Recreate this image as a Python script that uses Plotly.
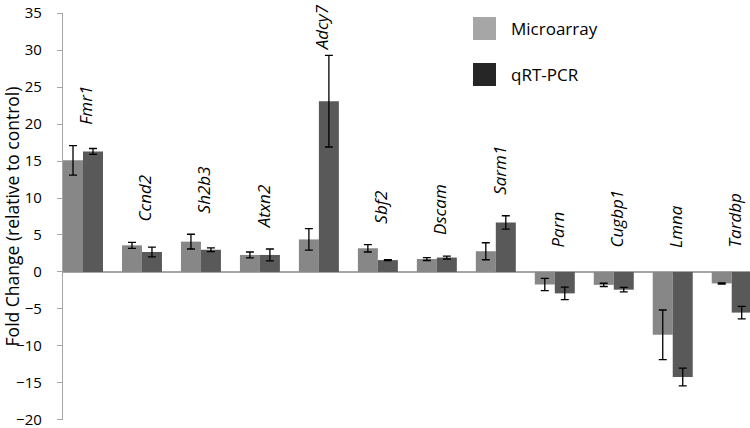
import plotly.graph_objects as go

genes = ["Fmr1", "Ccnd2", "Sh2b3", "Atxn2", "Adcy7", "Sbf2", "Dscam", "Sarm1",
         "Parn", "Cugbp1", "Lmna", "Tardbp"]
microarray = [15.1, 3.6, 4.1, 2.3, 4.4, 3.2, 1.75, 2.8, -1.7, -1.75, -8.5, -1.55]
microarray_err = [2.0, 0.4, 1.0, 0.4, 1.45, 0.5, 0.2, 1.15, 0.83, 0.22, 3.35, 0.08]
qrtpcr = [16.3, 2.7, 3.0, 2.3, 23.1, 1.6, 1.95, 6.7, -2.9, -2.4, -14.2, -5.5]
qrtpcr_err = [0.4, 0.65, 0.25, 0.8, 6.2, 0.05, 0.2, 0.9, 0.85, 0.3, 1.2, 0.85]
y_ticks = [-20, -15, -10, -5, 0, 5, 10, 15, 20, 25, 30, 35]

x = list(range(len(genes)))
bar_micro = "#878787"
bar_qrt = "#595959"
leg_micro = "#a6a6a6"
leg_qrt = "#262626"
font = "Open Sans"

fig = go.Figure()
fig.add_trace(go.Bar(x=x, y=microarray, name="Microarray", marker_color=bar_micro,
                     marker_line_width=0,
                     error_y=dict(type="data", array=microarray_err, color="black",
                                  thickness=1.3, width=4)))
fig.add_trace(go.Bar(x=x, y=qrtpcr, name="qRT-PCR", marker_color=bar_qrt,
                     marker_line_width=0,
                     error_y=dict(type="data", array=qrtpcr_err, color="black",
                                  thickness=1.3, width=4)))

# gene labels above bars (or above zero line for negative bars)
for i, g in enumerate(genes):
    hi = max(microarray[i] + microarray_err[i], qrtpcr[i] + qrtpcr_err[i], 0)
    ly = min(hi + 2.6, 29.7) if hi > 0 else 3.0
    fig.add_annotation(x=i + 0.05, y=ly, text=g, textangle=-90, showarrow=False,
                       xanchor="center", yanchor="bottom",
                       font=dict(family=font, size=17, color="black", style="italic"))

# manual legend
for k, (lab, col) in enumerate([("Microarray", leg_micro), ("qRT-PCR", leg_qrt)]):
    y0 = 17 + k * 46
    fig.add_shape(type="rect", xref="paper", yref="paper",
                  x0=(473 - 63) / 687, x1=(496 - 63) / 687,
                  y0=1 - (y0 + 23 - 13) / 407, y1=1 - (y0 - 13) / 407,
                  fillcolor=col, line_width=0)
    fig.add_annotation(xref="paper", yref="paper", x=(509 - 63) / 687,
                       y=1 - (y0 + 11.5 - 13) / 407, text=lab, showarrow=False,
                       xanchor="left", yanchor="middle",
                       font=dict(family=font, size=17, color="black"))

fig.update_layout(
    width=750, height=428,
    margin=dict(l=63, r=0, t=13, b=8, autoexpand=False),
    paper_bgcolor="white", plot_bgcolor="white",
    barmode="group", bargap=0.322, bargroupgap=0,
    showlegend=False,
    font=dict(family=font, color="black"),
    xaxis=dict(range=[-0.339, 11.31], showticklabels=False, showgrid=False,
               zeroline=False, showline=False, ticks="", automargin=False),
    yaxis=dict(range=[-20.03, 35.03], tickvals=y_ticks, showgrid=False, automargin=False,
               zeroline=True, zerolinecolor="#a6a6a6", zerolinewidth=1.5,
               showline=True, linecolor="#a6a6a6", linewidth=1.3,
               ticks="outside", ticklen=5, tickcolor="#a6a6a6", tickwidth=1.3,
               ticklabelstandoff=12, ticklabeloverflow="allow",
               tickfont=dict(family=font, size=15, color="black"),
               title=dict(text="Fold Change (relative to control)", standoff=8,
                          font=dict(family=font, size=17.5, color="black"))),
)

fig.write_html("out.html", config={"displayModeBar": False},
               post_script="document.body.style.margin='0';document.body.style.overflow='hidden';")
